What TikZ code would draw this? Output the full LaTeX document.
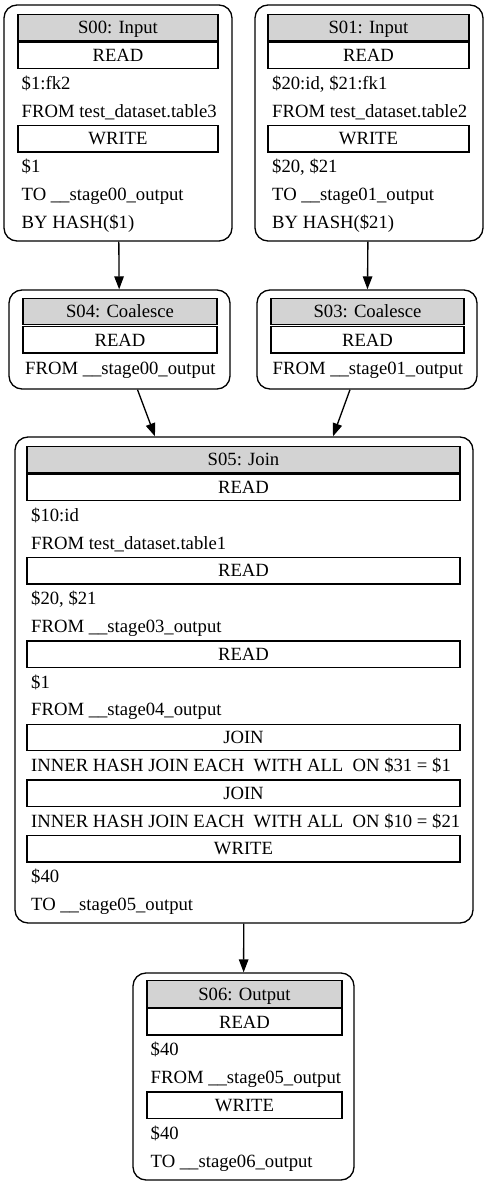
\documentclass[tikz,border=0pt]{standalone}
\usepackage{fontspec}
\setmainfont{Liberation Serif}
\usepackage{tikz}
\usetikzlibrary{arrows.meta}
\definecolor{hdgray}{HTML}{D3D3D3}

\begin{document}
\begin{tikzpicture}[x=1pt,y=-1pt, font=\fontsize{18.67}{22}\selectfont,
  stage/.style={draw, line width=1.33, rounded corners=13, inner sep=0},
  cell/.style={draw, line width=1.33, minimum height=26.5, inner sep=0, text height=12.4, text depth=0},
  head/.style={cell, fill=hdgray},
  txt/.style={anchor=west, inner sep=0, text height=12.4, text depth=0},
  arr/.style={line width=1.33, -{Triangle[length=13,width=9.5]}}]
\useasboundingbox (0,0) rectangle (488,1187);

%stage S00
\node[stage, minimum width=228, minimum height=236] (s00) at (118,123) {};
\node[head, minimum width=200] (s00h) at (118,27.5) {S00: Input};
\node[cell, minimum width=200] (s00r) at (118,55.3) {READ};
\node[txt] (s00a) at (21.5,83.1) {\$1:fk2};
\node[txt] (s00b) at (21.5,110.9) {FROM test\_dataset.table3};
\node[cell, minimum width=200] (s00w) at (118,138.7) {WRITE};
\node[txt] (s00c) at (21.5,166.5) {\$1};
\node[txt] (s00d) at (21.5,194.3) {TO \_\_stage00\_output};
\node[txt] (s00e) at (21.5,222.1) {BY HASH(\$1)};

%stage S01
\node[stage, minimum width=228, minimum height=236] (s01) at (369,123) {};
\node[head, minimum width=201] (s01h) at (368.5,27.5) {S01: Input};
\node[cell, minimum width=201] (s01r) at (368.5,55.3) {READ};
\node[txt] (s01a) at (272,83.1) {\$20:id, \$21:fk1};
\node[txt] (s01b) at (272,110.9) {FROM test\_dataset.table2};
\node[cell, minimum width=201] (s01w) at (368.5,138.7) {WRITE};
\node[txt] (s01c) at (272,166.5) {\$20, \$21};
\node[txt] (s01d) at (272,194.3) {TO \_\_stage01\_output};
\node[txt] (s01e) at (272,222.1) {BY HASH(\$21)};

%stage S04
\node[stage, minimum width=221, minimum height=99] (s04) at (119.5,339.5) {};
\node[head, minimum width=194] (s04h) at (120,311.5) {S04: Coalesce};
\node[cell, minimum width=194] (s04r) at (120,339.8) {READ};
\node[txt] (s04a) at (25,367.8) {FROM \_\_stage00\_output};

%stage S03
\node[stage, minimum width=220, minimum height=99] (s03) at (367,339.5) {};
\node[head, minimum width=193] (s03h) at (367.5,311.5) {S03: Coalesce};
\node[cell, minimum width=193] (s03r) at (367.5,339.8) {READ};
\node[txt] (s03a) at (272.5,367.8) {FROM \_\_stage01\_output};

%stage S05
\node[stage, minimum width=458, minimum height=486] (s05) at (244,680) {};
\node[head, minimum width=433] (s05h) at (243.5,459.5) {S05: Join};
\node[cell, minimum width=433] (s05r1) at (243.5,487.3) {READ};
\node[txt] (s05a) at (31,515.1) {\$10:id};
\node[txt] (s05b) at (31,542.9) {FROM test\_dataset.table1};
\node[cell, minimum width=433] (s05r2) at (243.5,570.7) {READ};
\node[txt] (s05c) at (31,598.5) {\$20, \$21};
\node[txt] (s05d) at (31,626.3) {FROM \_\_stage03\_output};
\node[cell, minimum width=433] (s05r3) at (243.5,654.1) {READ};
\node[txt] (s05e) at (31,681.9) {\$1};
\node[txt] (s05f) at (31,709.7) {FROM \_\_stage04\_output};
\node[cell, minimum width=433] (s05j1) at (243.5,737.5) {JOIN};
\node[txt] (s05g) at (31,765.3) {INNER HASH JOIN EACH\ \ WITH ALL\ \ ON \$31 = \$1};
\node[cell, minimum width=433] (s05j2) at (243.5,793.1) {JOIN};
\node[txt] (s05h2) at (31,820.9) {INNER HASH JOIN EACH\ \ WITH ALL\ \ ON \$10 = \$21};
\node[cell, minimum width=433] (s05w) at (243.5,848.7) {WRITE};
\node[txt] (s05i) at (31,876.5) {\$40};
\node[txt] (s05k) at (31,904.3) {TO \_\_stage05\_output};

%stage S06
\node[stage, minimum width=221, minimum height=207] (s06) at (243.5,1076.5) {};
\node[head, minimum width=195] (s06h) at (244.5,994) {S06: Output};
\node[cell, minimum width=195] (s06r) at (244.5,1021.8) {READ};
\node[txt] (s06a) at (150.5,1049.6) {\$40};
\node[txt] (s06b) at (150.5,1077.4) {FROM \_\_stage05\_output};
\node[cell, minimum width=195] (s06w) at (244.5,1105.2) {WRITE};
\node[txt] (s06c) at (150.5,1133) {\$40};
\node[txt] (s06d) at (150.5,1160.8) {TO \_\_stage06\_output};

%edges
\draw[arr] (s00) -- (s04);
\draw[arr] (s01) -- (s03);
\draw[arr] ([xshift=18]s04.south) -- ([xshift=-89]s05.north);
\draw[arr] ([xshift=-17]s03.south) -- ([xshift=89]s05.north);
\draw[arr] (s05) -- (s06);

\end{tikzpicture}
\end{document}
